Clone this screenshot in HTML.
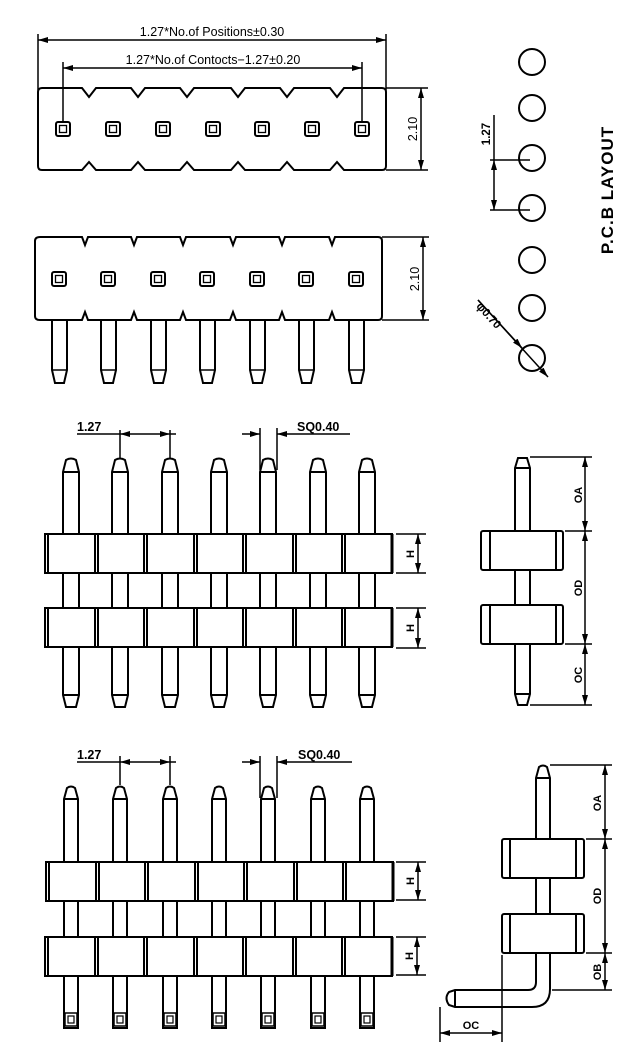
<!DOCTYPE html>
<html><head><meta charset="utf-8"><style>
html,body{margin:0;padding:0;background:#fff}
svg{display:block}
text{font-family:"Liberation Sans",sans-serif;fill:#000}
</style></head><body>
<svg width="640" height="1064" viewBox="0 0 640 1064" xmlns="http://www.w3.org/2000/svg">
<defs>
<marker id="a" viewBox="0 0 10 6" refX="10" refY="3" markerWidth="10" markerHeight="6" orient="auto-start-reverse" markerUnits="userSpaceOnUse"><path d="M0,0 L10,3 L0,6 z" fill="#000"/></marker>
<g id="sq"><rect x="-7" y="-7" width="14" height="14" rx="2" fill="none" stroke="#000" stroke-width="2"/><rect x="-3.5" y="-3.5" width="7" height="7" fill="none" stroke="#000" stroke-width="1.3"/></g>
<g id="pinTop" fill="none" stroke="#000" stroke-width="2"><path d="M-8,0 V-62 L-5,-73 Q0,-76 5,-73 L8,-62 V0"/><line x1="-8" y1="-62" x2="8" y2="-62"/></g>
<g id="seg"><rect x="0" y="0" width="50" height="39" fill="#fff" stroke="#000" stroke-width="2"/><line x1="3" y1="0" x2="3" y2="39" stroke="#000" stroke-width="2"/></g>
</defs>
<g fill="none" stroke="#000" stroke-width="2">
<!-- ===== TOP VIEW ===== -->
<path d="M42,88 H82 L89,97 L96,88 H131 L138,97 L145,88 H180 L187,97 L194,88 H231 L238,97 L245,88 H280 L287,97 L294,88 H330 L337,97 L344,88 H382 Q386,88 386,92 V166 Q386,170 382,170 H344 L337,162 L330,170 H294 L287,162 L280,170 H245 L238,162 L231,170 H194 L187,162 L180,170 H145 L138,162 L131,170 H96 L89,162 L82,170 H42 Q38,170 38,166 V92 Q38,88 42,88 Z"/>
</g>
<g>
<use href="#sq" x="63" y="129"/><use href="#sq" x="113" y="129"/><use href="#sq" x="163" y="129"/><use href="#sq" x="213" y="129"/><use href="#sq" x="262" y="129"/><use href="#sq" x="312" y="129"/><use href="#sq" x="362" y="129"/>
</g>
<g stroke="#000" stroke-width="1.5" fill="none">
<line x1="38" y1="34" x2="38" y2="90"/><line x1="386" y1="34" x2="386" y2="90"/>
<line x1="38" y1="40" x2="386" y2="40" marker-start="url(#a)" marker-end="url(#a)"/>
<line x1="63" y1="62" x2="63" y2="121"/><line x1="362" y1="62" x2="362" y2="121"/>
<line x1="63" y1="68" x2="362" y2="68" marker-start="url(#a)" marker-end="url(#a)"/>
<line x1="386" y1="88" x2="428" y2="88"/><line x1="386" y1="170" x2="428" y2="170"/>
<line x1="421" y1="88" x2="421" y2="170" marker-start="url(#a)" marker-end="url(#a)"/>
</g>
<text x="212" y="36" font-size="12.5" text-anchor="middle">1.27*No.of  Positions±0.30</text>
<text x="213" y="64" font-size="12.5" text-anchor="middle">1.27*No.of  Contocts−1.27±0.20</text>
<text transform="translate(417,129) rotate(-90)" font-size="12.5" text-anchor="middle">2.10</text>

<!-- ===== FRONT VIEW ===== -->
<g fill="none" stroke="#000" stroke-width="2">
<path d="M52,320 V370 L55,383 H64 L67,370 V320 M101,320 V370 L104,383 H113 L116,370 V320 M151,320 V370 L154,383 H163 L166,370 V320 M200,320 V370 L203,383 H212 L215,370 V320 M250,320 V370 L253,383 H262 L265,370 V320 M299,320 V370 L302,383 H311 L314,370 V320 M349,320 V370 L352,383 H361 L364,370 V320"/>
<path d="M52,370 H67 M101,370 H116 M151,370 H166 M200,370 H215 M250,370 H265 M299,370 H314 M349,370 H364" stroke-width="1.5"/>
<path d="M40,237 H82 L85,245 L88,237 H131 L134,245 L137,237 H180 L183,245 L186,237 H230 L233,245 L236,237 H279 L282,245 L285,237 H329 L332,245 L335,237 H378 Q382,237 382,241 V316 Q382,320 378,320 H335 L332,312 L329,320 H285 L282,312 L279,320 H236 L233,312 L230,320 H186 L183,312 L180,320 H137 L134,312 L131,320 H88 L85,312 L82,320 H40 Q35,320 35,316 V241 Q35,237 40,237 Z" fill="#fff"/>
</g>
<g>
<use href="#sq" x="59" y="279"/><use href="#sq" x="108" y="279"/><use href="#sq" x="158" y="279"/><use href="#sq" x="207" y="279"/><use href="#sq" x="257" y="279"/><use href="#sq" x="306" y="279"/><use href="#sq" x="356" y="279"/>
</g>
<g stroke="#000" stroke-width="1.5" fill="none">
<line x1="382" y1="237" x2="429" y2="237"/><line x1="382" y1="320" x2="429" y2="320"/>
<line x1="423" y1="237" x2="423" y2="320" marker-start="url(#a)" marker-end="url(#a)"/>
</g>
<text transform="translate(419,279) rotate(-90)" font-size="12.5" text-anchor="middle">2.10</text>

<!-- ===== PCB LAYOUT ===== -->
<g fill="none" stroke="#000" stroke-width="2">
<circle cx="532" cy="62" r="13"/><circle cx="532" cy="108" r="13"/><circle cx="532" cy="158" r="13"/><circle cx="532" cy="208" r="13"/><circle cx="532" cy="260" r="13"/><circle cx="532" cy="308" r="13"/><circle cx="532" cy="358" r="13"/>
</g>
<g stroke="#000" stroke-width="1.5" fill="none">
<line x1="490" y1="160" x2="530" y2="160"/><line x1="490" y1="210" x2="530" y2="210"/>
<line x1="494" y1="115" x2="494" y2="160"/>
<line x1="494" y1="160" x2="494" y2="210" marker-start="url(#a)" marker-end="url(#a)"/>
<line x1="478" y1="300" x2="548" y2="377" marker-end="url(#a)"/>
<line x1="478" y1="300" x2="522" y2="348" marker-end="url(#a)"/>
</g>
<text transform="translate(490,134) rotate(-90)" font-size="11.5" font-weight="bold" text-anchor="middle">1.27</text>
<text transform="translate(486,318) rotate(48)" font-size="11.5" font-weight="bold" text-anchor="middle">φ0.70</text>
<text transform="translate(613,190) rotate(-90)" font-size="17" font-weight="bold" text-anchor="middle" letter-spacing="1">P.C.B  LAYOUT</text>

<!-- ===== VIEW 3 ===== -->
<g fill="none" stroke="#000" stroke-width="2">
<g id="v3pins">
<path d="M63,534 V472 L66,460 Q71,457 76,460 L79,472 V534 M63,472 H79 M63,573 V608 M79,573 V608 M63,648 V695 L66,707 H76 L79,695 V648 M63,695 H79"/>
</g>
<use href="#v3pins" x="49"/><use href="#v3pins" x="99"/><use href="#v3pins" x="148"/><use href="#v3pins" x="197"/><use href="#v3pins" x="247"/><use href="#v3pins" x="296"/>
</g>
<g id="row3a">
<use href="#seg" x="45" y="534"/><use href="#seg" x="95" y="534"/><use href="#seg" x="144" y="534"/><use href="#seg" x="194" y="534"/><use href="#seg" x="243" y="534"/><use href="#seg" x="293" y="534"/><use href="#seg" x="342" y="534"/>
<line x1="392" y1="534" x2="392" y2="573" stroke="#000" stroke-width="3"/>
</g>
<use href="#row3a" y="74"/>
<g stroke="#000" stroke-width="1.5" fill="none">
<line x1="77" y1="434" x2="120" y2="434"/>
<line x1="120" y1="434" x2="170" y2="434" marker-start="url(#a)" marker-end="url(#a)"/>
<line x1="170" y1="434" x2="176" y2="434"/>
<line x1="120" y1="430" x2="120" y2="458"/><line x1="170" y1="430" x2="170" y2="458"/>
<line x1="260" y1="428" x2="260" y2="470"/><line x1="277" y1="428" x2="277" y2="470"/>
<line x1="242" y1="434" x2="260" y2="434" marker-end="url(#a)"/>
<line x1="350" y1="434" x2="277" y2="434" marker-end="url(#a)"/>
<line x1="396" y1="534" x2="426" y2="534"/><line x1="396" y1="573" x2="426" y2="573"/>
<line x1="396" y1="608" x2="426" y2="608"/><line x1="396" y1="648" x2="426" y2="648"/>
<line x1="418" y1="534" x2="418" y2="573" marker-start="url(#a)" marker-end="url(#a)"/>
<line x1="418" y1="608" x2="418" y2="648" marker-start="url(#a)" marker-end="url(#a)"/>
</g>
<text x="77" y="431" font-size="12.5" font-weight="bold">1.27</text>
<text x="297" y="431" font-size="12.5" font-weight="bold">SQ0.40</text>
<text transform="translate(414,554) rotate(-90)" font-size="11" font-weight="bold" text-anchor="middle">H</text>
<text transform="translate(414,628) rotate(-90)" font-size="11" font-weight="bold" text-anchor="middle">H</text>

<!-- ===== VIEW 4 ===== -->
<g fill="none" stroke="#000" stroke-width="2">
<g id="v4pins">
<path d="M64,862 V799 L67,788 Q71,785 75,788 L78,799 V862 M64,799 H78 M64,900 V937 M78,900 V937 M64,975 V1028 H78 V975"/>
<rect x="65" y="1013" width="12" height="13" stroke-width="1.5"/><rect x="68" y="1016" width="6" height="7" stroke-width="1.2"/>
</g>
<use href="#v4pins" x="49"/><use href="#v4pins" x="99"/><use href="#v4pins" x="148"/><use href="#v4pins" x="197"/><use href="#v4pins" x="247"/><use href="#v4pins" x="296"/>
</g>
<g transform="translate(1,328)"><use href="#row3a"/></g>
<g transform="translate(0,403)"><use href="#row3a"/></g>
<g stroke="#000" stroke-width="1.5" fill="none">
<line x1="77" y1="762" x2="120" y2="762"/>
<line x1="120" y1="762" x2="170" y2="762" marker-start="url(#a)" marker-end="url(#a)"/>
<line x1="170" y1="762" x2="176" y2="762"/>
<line x1="120" y1="756" x2="120" y2="785"/><line x1="170" y1="756" x2="170" y2="785"/>
<line x1="260" y1="756" x2="260" y2="798"/><line x1="277" y1="756" x2="277" y2="798"/>
<line x1="242" y1="762" x2="260" y2="762" marker-end="url(#a)"/>
<line x1="352" y1="762" x2="277" y2="762" marker-end="url(#a)"/>
<line x1="396" y1="862" x2="426" y2="862"/><line x1="396" y1="900" x2="426" y2="900"/>
<line x1="396" y1="937" x2="426" y2="937"/><line x1="396" y1="975" x2="426" y2="975"/>
<line x1="418" y1="862" x2="418" y2="900" marker-start="url(#a)" marker-end="url(#a)"/>
<line x1="417" y1="937" x2="417" y2="975" marker-start="url(#a)" marker-end="url(#a)"/>
</g>
<text x="77" y="759" font-size="12.5" font-weight="bold">1.27</text>
<text x="298" y="759" font-size="12.5" font-weight="bold">SQ0.40</text>
<text transform="translate(414,881) rotate(-90)" font-size="11" font-weight="bold" text-anchor="middle">H</text>
<text transform="translate(413,956) rotate(-90)" font-size="11" font-weight="bold" text-anchor="middle">H</text>

<!-- ===== SIDE VIEW 3 ===== -->
<g fill="none" stroke="#000" stroke-width="2">
<path d="M515,531 V468 L518,458 H527 L530,468 V531 M515,468 H530 M515,570 V605 M530,570 V605 M515,644 V694 L518,705 H527 L530,694 V644 M515,694 H530"/>
<rect x="481" y="531" width="82" height="39" rx="2"/><line x1="490" y1="531" x2="490" y2="570"/><line x1="556" y1="531" x2="556" y2="570"/>
<rect x="481" y="605" width="82" height="39" rx="2"/><line x1="490" y1="605" x2="490" y2="644"/><line x1="556" y1="605" x2="556" y2="644"/>
</g>
<g stroke="#000" stroke-width="1.5" fill="none">
<line x1="530" y1="457" x2="592" y2="457"/><line x1="565" y1="531" x2="592" y2="531"/>
<line x1="565" y1="644" x2="592" y2="644"/><line x1="530" y1="705" x2="592" y2="705"/>
<line x1="585" y1="457" x2="585" y2="531" marker-start="url(#a)" marker-end="url(#a)"/>
<line x1="585" y1="531" x2="585" y2="644" marker-start="url(#a)" marker-end="url(#a)"/>
<line x1="585" y1="644" x2="585" y2="705" marker-start="url(#a)" marker-end="url(#a)"/>
</g>
<text transform="translate(582,495) rotate(-90)" font-size="11" font-weight="bold" text-anchor="middle">OA</text>
<text transform="translate(582,588) rotate(-90)" font-size="11" font-weight="bold" text-anchor="middle">OD</text>
<text transform="translate(582,675) rotate(-90)" font-size="11" font-weight="bold" text-anchor="middle">OC</text>

<!-- ===== SIDE VIEW 4 ===== -->
<g fill="none" stroke="#000" stroke-width="2">
<path d="M536,839 V778 L539,767 Q543,764 547,767 L550,778 V839 M536,778 H550 M536,878 V914 M550,878 V914 M536,953 V982 Q536,990 528,990 H455 L449,992 Q444,998 449,1005 L455,1007 H532 Q550,1007 550,989 V953 M455,990 V1007"/>
<rect x="502" y="839" width="82" height="39" rx="2"/><line x1="510" y1="839" x2="510" y2="878"/><line x1="576" y1="839" x2="576" y2="878"/>
<rect x="502" y="914" width="82" height="39" rx="2"/><line x1="510" y1="914" x2="510" y2="953"/><line x1="576" y1="914" x2="576" y2="953"/>
</g>
<g stroke="#000" stroke-width="1.5" fill="none">
<line x1="550" y1="765" x2="612" y2="765"/><line x1="586" y1="839" x2="612" y2="839"/>
<line x1="586" y1="953" x2="612" y2="953"/><line x1="552" y1="990" x2="612" y2="990"/>
<line x1="605" y1="765" x2="605" y2="839" marker-start="url(#a)" marker-end="url(#a)"/>
<line x1="605" y1="839" x2="605" y2="953" marker-start="url(#a)" marker-end="url(#a)"/>
<line x1="605" y1="953" x2="605" y2="990" marker-start="url(#a)" marker-end="url(#a)"/>
<line x1="440" y1="1007" x2="440" y2="1042"/><line x1="502" y1="955" x2="502" y2="1042"/>
<line x1="440" y1="1033" x2="502" y2="1033" marker-start="url(#a)" marker-end="url(#a)"/>
</g>
<text transform="translate(601,803) rotate(-90)" font-size="11" font-weight="bold" text-anchor="middle">OA</text>
<text transform="translate(601,896) rotate(-90)" font-size="11" font-weight="bold" text-anchor="middle">OD</text>
<text transform="translate(601,972) rotate(-90)" font-size="11" font-weight="bold" text-anchor="middle">OB</text>
<text x="471" y="1029" font-size="11" font-weight="bold" text-anchor="middle">OC</text>
</svg>
</body></html>
